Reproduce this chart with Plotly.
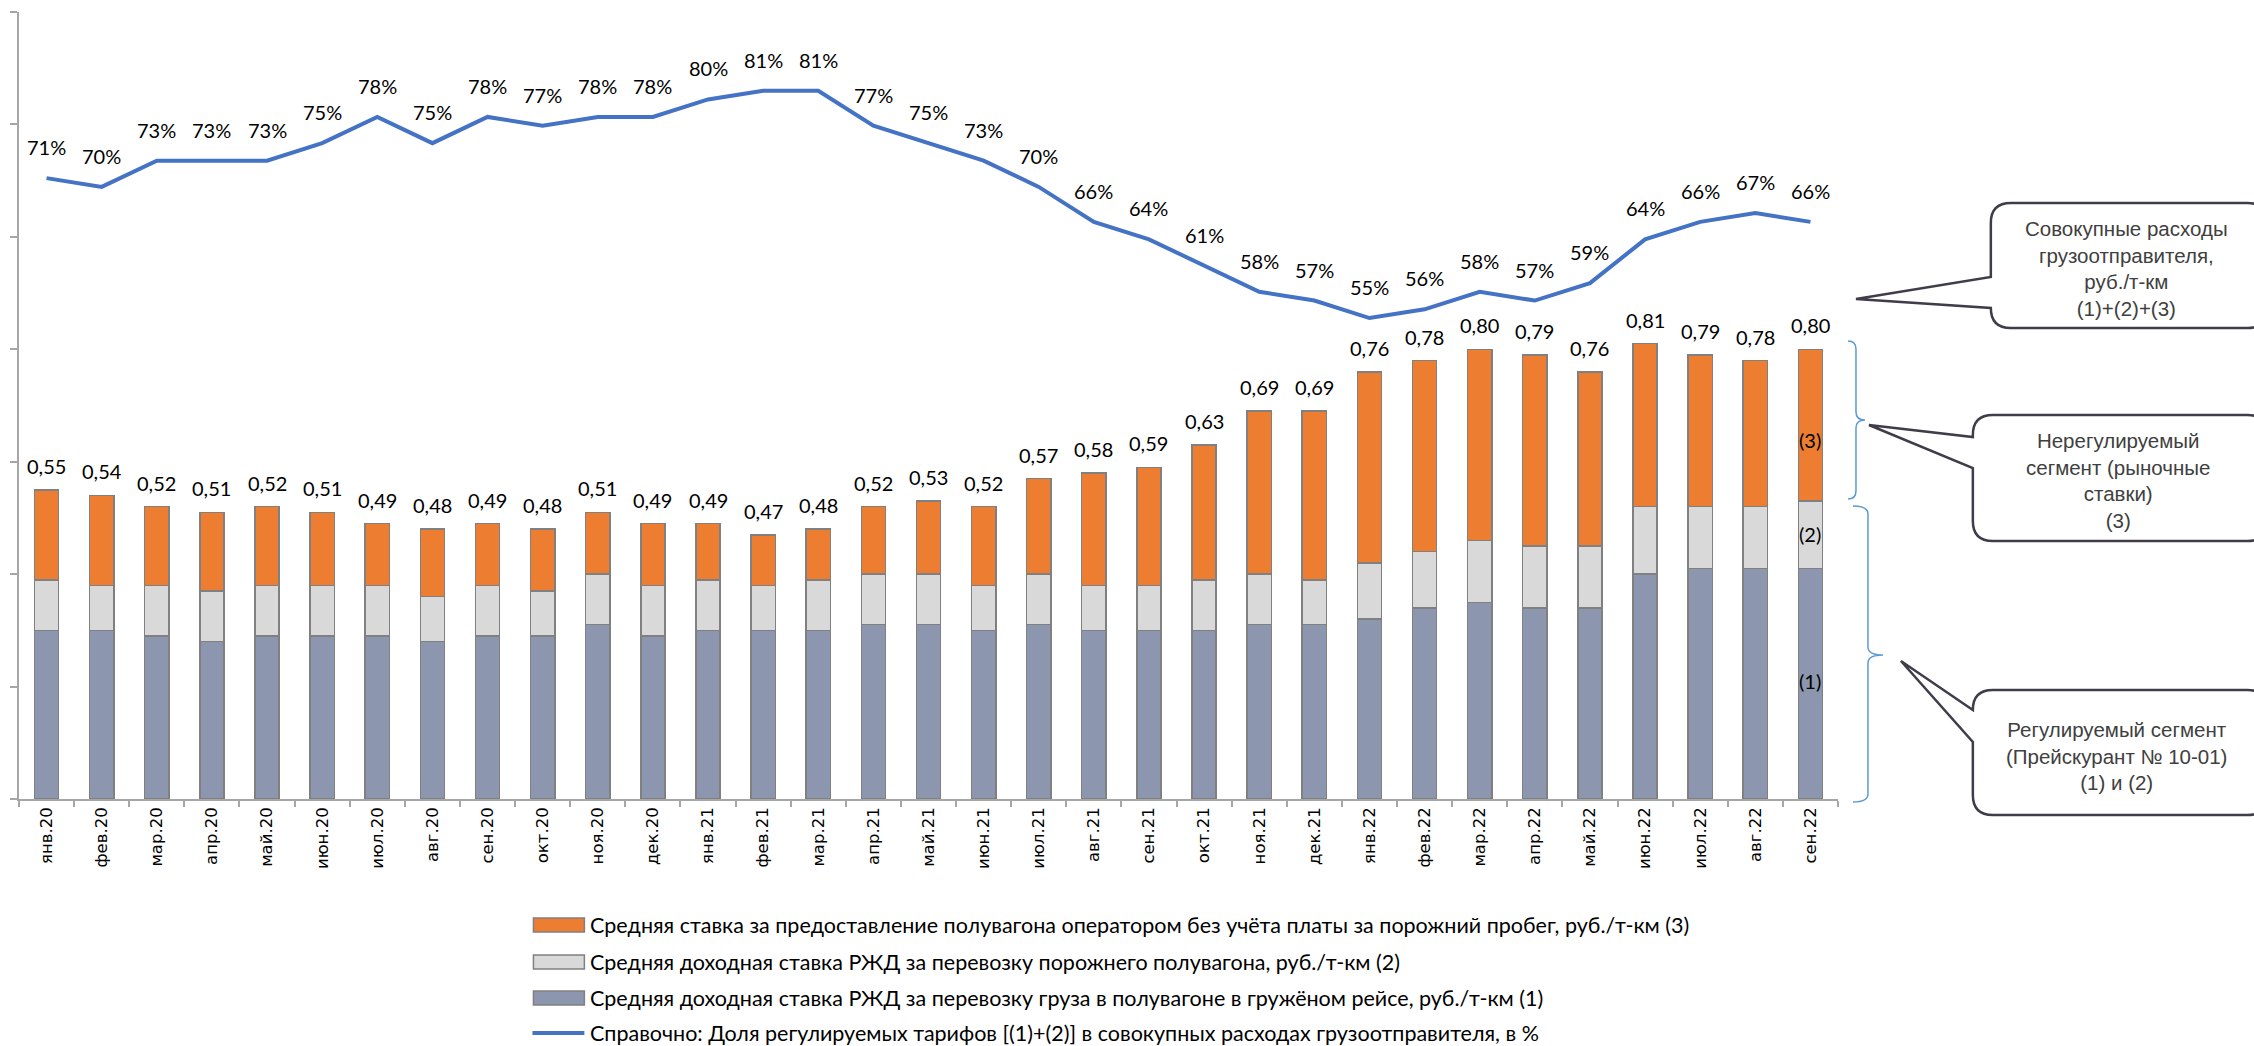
import plotly.graph_objects as go

# ---------------- data ----------------
months = ["янв.20", "фев.20", "мар.20", "апр.20", "май.20", "июн.20", "июл.20", "авг.20",
          "сен.20", "окт.20", "ноя.20", "дек.20", "янв.21", "фев.21", "мар.21", "апр.21",
          "май.21", "июн.21", "июл.21", "авг.21", "сен.21", "окт.21", "ноя.21", "дек.21",
          "янв.22", "фев.22", "мар.22", "апр.22", "май.22", "июн.22", "июл.22", "авг.22",
          "сен.22"]

# (1) RZD rate for loaded run
rate_loaded = [0.30, 0.30, 0.29, 0.28, 0.29, 0.29, 0.29, 0.28, 0.29, 0.29, 0.31, 0.29,
               0.30, 0.30, 0.30, 0.31, 0.31, 0.30, 0.31, 0.30, 0.30, 0.30, 0.31, 0.31,
               0.32, 0.34, 0.35, 0.34, 0.34, 0.40, 0.41, 0.41, 0.41]
# (2) RZD rate for empty wagon
rate_empty = [0.09, 0.08, 0.09, 0.09, 0.09, 0.09, 0.09, 0.08, 0.09, 0.08, 0.09, 0.09,
              0.09, 0.08, 0.09, 0.09, 0.09, 0.08, 0.09, 0.08, 0.08, 0.09, 0.09, 0.08,
              0.10, 0.10, 0.11, 0.11, 0.11, 0.12, 0.11, 0.11, 0.12]
# (3) operator rate
rate_operator = [0.16, 0.16, 0.14, 0.14, 0.14, 0.13, 0.11, 0.12, 0.11, 0.11, 0.11, 0.11,
                 0.10, 0.09, 0.09, 0.12, 0.13, 0.14, 0.17, 0.20, 0.21, 0.24, 0.29, 0.30,
                 0.34, 0.34, 0.34, 0.34, 0.31, 0.29, 0.27, 0.26, 0.27]
# total (1)+(2)+(3)
totals = [0.55, 0.54, 0.52, 0.51, 0.52, 0.51, 0.49, 0.48, 0.49, 0.48, 0.51, 0.49,
          0.49, 0.47, 0.48, 0.52, 0.53, 0.52, 0.57, 0.58, 0.59, 0.63, 0.69, 0.69,
          0.76, 0.78, 0.80, 0.79, 0.76, 0.81, 0.79, 0.78, 0.80]
# share of regulated tariffs, %
reg_share = [71, 70, 73, 73, 73, 75, 78, 75, 78, 77, 78, 78, 80, 81, 81, 77, 75, 73,
             70, 66, 64, 61, 58, 57, 55, 56, 58, 57, 59, 64, 66, 67, 66]

legend_names = [
    "Средняя ставка за предоставление полувагона оператором без учёта платы за порожний пробег, руб./т-км (3)",
    "Средняя доходная ставка РЖД за перевозку порожнего полувагона, руб./т-км (2)",
    "Средняя доходная ставка РЖД за перевозку груза в полувагоне в гружёном рейсе, руб./т-км (1)",
    "Справочно: Доля регулируемых тарифов [(1)+(2)] в совокупных расходах грузоотправителя, в %",
]
callout_texts = [
    "Совокупные расходы<br>грузоотправителя,<br>руб./т-км<br>(1)+(2)+(3)",
    "Нерегулируемый<br>сегмент (рыночные<br>ставки)<br>(3)",
    "Регулируемый сегмент<br>(Прейскурант № 10-01)<br>(1) и (2)",
]

# ---------------- layout geometry (pixels) ----------------
W, H = 2254, 1046
L, R, T, B = 17, 1838, 12, 799

def px(xp):
    return (xp - L) / (R - L)

def py(yp):
    return (B - yp) / (B - T)

C_ORANGE = "#ed7d31"
C_LGRAY = "#d9d9d9"
C_BLUEGRAY = "#8c96ae"
C_EDGE = "#808080"
C_LINE = "#4472c4"
C_AXIS = "#a6a6a6"
LABEL_FONT = "Lato, Carlito, sans-serif"
ARIAL = "Liberation Sans, Arial, sans-serif"
TICK_FONT = "DejaVu Sans, Verdana, sans-serif"

fig = go.Figure()
fig.add_bar(x=months, y=rate_loaded, name=legend_names[2], showlegend=False,
            marker=dict(color=C_BLUEGRAY, line=dict(color=C_EDGE, width=1.5)))
fig.add_bar(x=months, y=rate_empty, name=legend_names[1], showlegend=False,
            marker=dict(color=C_LGRAY, line=dict(color=C_EDGE, width=1.5)))
fig.add_bar(x=months, y=rate_operator, name=legend_names[0], showlegend=False,
            marker=dict(color=C_ORANGE, line=dict(color=C_EDGE, width=1.5)))
fig.add_scatter(x=months, y=[v / 100 for v in reg_share], yaxis="y2", mode="lines",
                name=legend_names[3], showlegend=False,
                line=dict(color=C_LINE, width=4))

annotations = []
for m, t in zip(months, totals):
    annotations.append(dict(x=m, y=t, xref="x", yref="y", yshift=24, showarrow=False,
                            text=f"{t:.2f}".replace(".", ","),
                            font=dict(family=LABEL_FONT, size=20, color="#000000")))
for m, s in zip(months, reg_share):
    annotations.append(dict(x=m, y=s / 100, xref="x", yref="y2", yshift=31, showarrow=False,
                            text=f"{s}%",
                            font=dict(family=LABEL_FONT, size=20, color="#000000")))

# segment labels inside the last bar
for txt, yp in [("(3)", 440), ("(2)", 548), ("(1)", 695)]:
    annotations.append(dict(x=months[-1], y=py(yp), xref="x", yref="paper", showarrow=False,
                            text=txt, font=dict(family=LABEL_FONT, size=20, color="#000000")))

# callout texts
for txt, (cx, cy) in zip(callout_texts, [(2127, 268), (2118, 480), (2117, 756)]):
    annotations.append(dict(x=px(cx), y=py(cy), xref="paper", yref="paper", showarrow=False,
                            text=txt, align="center", xanchor="center", yanchor="middle",
                            font=dict(family=ARIAL, size=20.5, color="#404040")))

shapes = []

def callout(left, top, bottom, right, tip, base_top, base_bot, r=20):
    def P(x, y):
        return f"{px(x):.6f},{py(y):.6f}"
    path = (f"M{P(left, top + r)} L{P(left, base_top)} L{P(tip[0], tip[1])} L{P(left, base_bot)} "
            f"L{P(left, bottom - r)} Q{P(left, bottom)} {P(left + r, bottom)} "
            f"L{P(right - r, bottom)} Q{P(right, bottom)} {P(right, bottom - r)} "
            f"L{P(right, top + r)} Q{P(right, top)} {P(right - r, top)} "
            f"L{P(left + r, top)} Q{P(left, top)} {P(left, top + r)} Z")
    return dict(type="path", xref="paper", yref="paper", path=path,
                line=dict(color="#403c4a", width=2.5), fillcolor="white", layer="above")

shapes.append(callout(1991, 203, 328, 2268, (1856, 299), 277, 308))
shapes.append(callout(1973, 415, 541, 2268, (1869, 425), 437, 468))
shapes.append(callout(1973, 690, 815, 2268, (1901, 661), 710, 742))

def brace(x_end, x_spine, x_notch, y_top, y_mid, y_bot, c=8):
    def P(x, y):
        return f"{px(x):.6f},{py(y):.6f}"
    path = (f"M{P(x_end, y_top)} Q{P(x_spine, y_top)} {P(x_spine, y_top + c)} "
            f"L{P(x_spine, y_mid - c)} Q{P(x_spine, y_mid)} {P(x_notch, y_mid)} "
            f"Q{P(x_spine, y_mid)} {P(x_spine, y_mid + c)} "
            f"L{P(x_spine, y_bot - c)} Q{P(x_spine, y_bot)} {P(x_end, y_bot)}")
    return dict(type="path", xref="paper", yref="paper", path=path,
                line=dict(color="#5b9bd5", width=1.5))

shapes.append(brace(1848, 1856, 1865, 341, 420, 499))
shapes.append(brace(1853, 1868, 1883, 506, 655, 802))

# custom legend
legend_y = [925, 962, 998, 1033]
legend_colors = [C_ORANGE, C_LGRAY, C_BLUEGRAY]
for i in range(3):
    shapes.append(dict(type="rect", xref="paper", yref="paper",
                       x0=px(532), x1=px(583), y0=py(legend_y[i] - 7), y1=py(legend_y[i] + 7),
                       fillcolor=legend_colors[i], line=dict(color=C_EDGE, width=1.5)))
shapes.append(dict(type="line", xref="paper", yref="paper",
                   x0=px(531), x1=px(583), y0=py(legend_y[3]), y1=py(legend_y[3]),
                   line=dict(color=C_LINE, width=4)))
for name, yy in zip(legend_names, legend_y):
    annotations.append(dict(x=px(588), y=py(yy), xref="paper", yref="paper", showarrow=False,
                            text=name, xanchor="left", yanchor="middle", borderpad=0,
                            font=dict(family=LABEL_FONT, size=21.5, color="#000000")))

fig.update_layout(
    width=W, height=H,
    margin=dict(l=L, r=W - R, t=T, b=H - B, pad=0),
    paper_bgcolor="white", plot_bgcolor="white",
    barmode="stack", bargap=0.56,
    showlegend=False,
    xaxis=dict(type="category", range=[-0.5, len(months) - 0.5], showline=True,
               linecolor=C_AXIS, linewidth=1.5, ticks="outside", tickson="boundaries",
               ticklen=6, tickcolor=C_AXIS, tickwidth=1.5, tickangle=-90,
               tickfont=dict(family=TICK_FONT, size=16.5, color="#000000"), showgrid=False),
    yaxis=dict(range=[0, 1.4], dtick=0.2, showline=True, linecolor=C_AXIS, linewidth=1.5,
               ticks="outside", ticklen=7, tickcolor=C_AXIS, tickwidth=1.5,
               showticklabels=False, showgrid=False, zeroline=False),
    yaxis2=dict(range=[0, 0.9], overlaying="y", side="right", visible=False,
                showgrid=False, zeroline=False),
    annotations=annotations,
    shapes=shapes,
)

fig.write_html("out.html", config={"displayModeBar": False},
               post_script="document.body.style.margin='0px';document.body.style.overflow='hidden';")
